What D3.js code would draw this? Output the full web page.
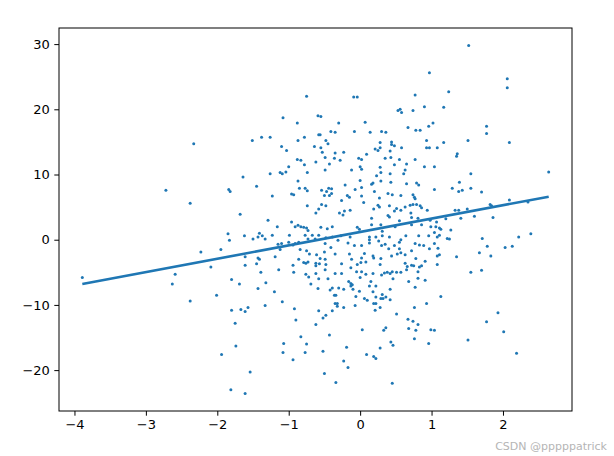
<!DOCTYPE html>
<html>
<head>
<meta charset="utf-8">
<script src="https://cdn.jsdelivr.net/npm/d3@7"></script>
<style>
  body { margin: 0; background: #fff; }
  text { font-family: "DejaVu Sans", sans-serif; }
</style>
</head>
<body>
<svg width="614" height="456"></svg>
<script>
// scatter points [x, y]
var points = [
  [-2.33,14.7],[-0.75,22.0],[-1.08,18.7],[-0.88,17.9],[-0.59,19.0],[-1.51,15.2],[-1.38,15.7],[-1.26,15.7],[-0.87,15.2],[-0.78,15.7],[-0.58,16.1],[-1.10,14.3],[-1.03,13.7],[-0.64,14.3],
  [0.97,25.6],[1.24,22.7],[-0.09,21.9],[-0.04,21.9],[0.77,22.2],[0.90,20.4],[1.17,20.3],[0.53,19.8],[0.56,20.0],[0.58,19.5],[0.74,19.8],[-0.55,18.9],[-0.30,17.9],[0.07,18.0],[1.02,17.9],[0.67,17.2],[0.96,17.4],[0.78,16.8],[0.84,16.8],[-0.41,16.6],[-0.35,16.5],[-0.08,16.6],[0.14,16.5],[0.30,16.6],[0.36,16.5],[-0.56,16.1],[-0.48,15.2],[-0.45,14.7],[0.28,14.9],[0.44,15.0],[0.44,14.6],[0.48,14.4],[0.93,15.2],[1.17,14.9],[-0.55,14.1],[0.21,13.9],[0.25,13.7],[0.28,14.1],[0.42,13.6],[0.58,14.1],[0.93,14.1],[0.97,14.1],[1.08,14.1],[-0.53,13.4],[-0.35,13.3],[-0.23,13.4],[0.09,13.1],
  [1.52,29.8],[2.06,24.7],[2.06,23.3],[1.77,17.4],[1.77,16.3],[1.51,15.2],[2.09,14.9],[1.36,13.2],[1.35,12.8],
  [-2.72,7.6],[-3.89,-5.8],[-2.59,-5.3],[-2.63,-6.8],
  [-0.88,12.3],[-0.83,12.2],[-0.62,11.9],[-0.78,11.5],[-1.00,11.2],[-1.12,10.3],[-1.09,10.1],[-1.04,10.4],[-1.26,10.1],[-0.74,10.3],[-1.64,9.6],[-0.87,9.0],[-1.45,8.2],[-0.85,7.9],[-0.77,7.9],[-0.74,7.5],[-1.84,7.7],[-1.82,7.4],[-0.96,7.0],[-0.93,6.9],[-1.23,6.7],[-2.38,5.6],[-0.74,5.2],[-0.58,4.7],[-0.62,4.1],[-1.68,3.9],[-1.29,3.0],[-0.96,2.7],
  [-0.87,2.2],[-0.91,2.0],[-0.83,2.0],[-0.79,1.9],[-0.75,1.8],[-1.16,2.0],[-0.73,1.4],[-1.41,1.0],[-1.85,0.9],[-1.23,0.7],[-0.99,0.7],[-0.77,0.7],[-0.67,0.7],[-1.62,0.6],[-1.43,0.4],[-1.37,0.6],[-1.50,0.1],[-1.33,0.1],[-1.83,-0.1],[-0.73,0.1],[-0.63,0.1],[-0.58,0.7],
  [-1.15,-0.7],[-1.10,-0.6],[-1.00,-0.4],[-0.94,-0.8],[-0.91,-0.6],[-0.86,-0.4],[-1.12,-1.5],[-0.84,-1.5],[-0.75,-1.7],[-2.23,-1.9],[-1.95,-1.5],[-0.71,-2.2],[-0.61,-2.3],[-1.61,-2.6],[-1.19,-2.6],[-1.43,-2.8],[-1.41,-3.0],[-0.86,-3.0],
  [-0.79,-3.5],[-0.76,-3.6],[-0.73,-3.4],[-0.62,-3.6],[-0.62,-4.0],[-1.61,-3.9],[-1.45,-3.7],[-0.94,-3.9],[-2.09,-4.2],[-1.14,-4.6],[-1.39,-5.0],[-0.93,-5.0],[-0.76,-5.3],[-0.72,-5.7],[-0.62,-5.2],[-1.80,-6.1],[-1.32,-6.6],[-1.69,-6.8],[-0.58,-6.0],
  [-0.49,12.6],[-0.36,12.5],[-0.28,12.2],[-0.02,12.5],[0.02,12.3],[0.35,12.5],[0.43,12.6],[0.55,12.3],[0.77,12.3],[-0.43,11.6],[0.48,11.5],[0.65,11.6],[0.00,11.2],[0.02,10.8],[0.28,11.1],[0.90,11.2],[1.04,11.2],[-0.49,10.7],[-0.12,10.7],[0.63,10.7],[0.29,10.3],[0.42,10.1],[0.61,10.1],[0.23,9.8],
  [0.00,9.1],[0.29,9.0],[0.18,8.7],[0.16,8.5],[0.43,8.8],[0.65,8.6],[0.79,8.7],[0.82,8.4],[-0.21,8.4],[-0.44,7.9],[-0.40,7.8],[-0.07,7.7],[0.02,8.0],[1.04,7.7],[-0.54,7.6],[-0.47,7.4],[-0.40,7.1],[0.20,7.4],[0.39,7.1],[0.45,6.9],[-0.50,6.8],[-0.43,6.8],[-0.18,6.8],[-0.15,6.5],[0.02,6.7],[0.57,6.8],[0.74,6.9],[0.76,6.5],[0.77,6.3],[0.27,6.4],
  [-0.26,6.0],[0.05,5.7],[-0.54,5.4],[-0.48,5.2],[0.25,5.3],[0.27,5.0],[0.41,5.2],[0.70,5.3],[0.74,5.4],[0.79,5.4],[0.63,5.0],[0.51,4.8],[0.57,4.5],[0.48,4.4],[0.84,5.2],[0.86,4.9],[-0.14,4.5],[0.19,4.7],[-0.22,4.4],[-0.29,4.1],[-0.24,3.8],[0.94,4.5],[0.39,3.7],[0.41,3.5],[0.71,4.1],[0.72,3.4],[0.16,3.3],[0.81,3.3],[0.55,2.9],[0.98,3.0],[1.20,3.2],[1.07,2.7],
  [0.16,2.3],[0.29,2.3],[0.72,2.3],[0.86,2.3],[0.99,2.0],[1.06,2.0],[1.11,1.8],[1.13,1.6],[-0.55,1.9],[-0.39,2.0],[-0.46,1.7],[-0.04,1.9],[-0.01,1.6],[0.49,2.0],[0.31,1.3],[1.04,1.1],[1.11,0.7],[1.08,0.4],[-0.48,0.3],[-0.39,0.4],[-0.27,0.6],[-0.14,0.4],[0.13,0.4],[0.22,0.4],[0.31,0.6],[0.41,0.4],[0.64,0.6],[0.82,0.6],[0.96,0.6],[1.22,0.2],
  [-0.31,-0.1],[0.13,0.0],[0.13,-0.5],[0.26,-0.2],[0.57,0.0],[0.55,-0.4],[-0.17,-0.5],[-0.49,-0.6],[1.04,-0.6],[0.83,-0.8],[0.89,-0.9],[-0.08,-0.9],[0.02,-0.9],[0.77,-0.6],[0.30,-0.9],[0.35,-0.7],[0.48,-0.9],[-0.41,-1.2],[0.40,-1.4],[0.55,-1.4],[0.57,-2.0],[0.52,-2.2],[0.97,-1.4],[1.09,-1.3],[0.72,-1.7],[-0.50,-1.9],[0.06,-2.1],[-0.35,-2.2],[-0.15,-2.2],
  [0.18,-2.5],[0.19,-2.8],[0.44,-2.5],[0.63,-2.3],[1.08,-2.5],[1.11,-2.3],[-0.56,-2.9],[-0.49,-3.0],[-0.12,-3.0],[0.02,-2.8],[0.29,-2.9],[0.78,-2.9],[0.91,-3.3],[-0.57,-3.7],[-0.48,-3.8],[-0.26,-3.7],[-0.04,-3.8],[0.01,-3.5],[0.08,-3.4],[0.28,-3.8],[0.63,-3.6],[0.66,-4.1],[0.72,-3.9],[0.75,-4.0],[0.86,-4.0],[0.83,-4.2],[1.08,-3.8],
  [-0.49,-4.6],[-0.13,-4.3],[-0.05,-4.9],[0.02,-4.9],[0.34,-5.1],[0.38,-5.0],[0.42,-5.2],[0.45,-4.9],[0.51,-5.0],[0.57,-5.0],[0.65,-4.6],[0.81,-4.9],[-0.35,-5.2],[-0.26,-5.2],[0.08,-5.3],[0.18,-5.2],[0.30,-5.4],[-0.45,-6.0],[-0.16,-6.4],[-0.13,-6.7],[0.00,-5.8],[0.15,-6.4],[0.46,-6.0],[0.68,-6.4],[0.81,-5.9],[0.91,-6.2],
  [1.55,10.1],[2.64,10.4],[1.39,8.8],[1.29,7.9],[1.38,7.4],[1.43,7.6],[1.55,7.9],[1.70,7.3],[2.09,6.1],[2.35,5.8],[1.82,5.4],[1.84,5.2],[1.33,4.5],[1.38,4.5],[1.50,4.7],[1.41,3.3],[1.60,3.6],[1.86,3.4],[1.27,1.5],[1.25,0.1],[2.39,0.9],[2.22,0.4],[1.71,0.2],[1.78,-1.0],[2.03,-1.2],[2.13,-1.0],[1.67,-2.0],[1.83,-2.5],[1.35,-2.6],[1.55,-5.0],[1.70,-4.7],
  [-1.43,-7.5],[-1.20,-8.0],[-0.69,-6.8],[-0.59,-7.5],[-2.38,-9.4],[-2.01,-8.5],[-1.80,-10.8],[-1.67,-10.7],[-1.61,-11.0],[-1.57,-10.4],[-1.33,-10.1],[-1.09,-9.5],[-0.92,-10.6],[-0.58,-10.9],[-1.75,-12.8],[-0.90,-12.3],[-0.62,-13.0],[-0.83,-14.9],[-1.07,-15.9],[-0.75,-16.0],[-1.74,-16.3],[-1.94,-17.6],[-1.08,-17.3],[-0.77,-17.3],[-0.94,-18.4],[-1.54,-20.3],[-1.81,-23.0],[-1.61,-23.6],
  [-0.42,-7.7],[-0.39,-7.4],[-0.30,-7.4],[-0.23,-7.6],[-0.13,-7.1],[-0.11,-6.9],[-0.10,-7.6],[-0.01,-7.9],[0.13,-7.1],[0.22,-7.1],[0.42,-7.6],[0.77,-7.3],[0.18,-8.0],[-0.36,-8.5],[-0.34,-8.5],[-0.06,-8.7],[0.22,-8.8],[0.31,-8.4],[0.29,-9.0],[0.32,-9.0],[0.36,-8.8],[0.42,-9.2],[0.06,-9.0],[0.10,-9.3],[1.13,-8.7],
  [-0.32,-9.8],[-0.32,-10.2],[-0.35,-9.8],[0.19,-9.8],[0.22,-9.8],[-0.07,-10.1],[-0.23,-10.4],[0.28,-10.4],[0.21,-10.8],[0.93,-9.8],[0.76,-10.4],[-0.39,-10.9],[-0.48,-11.6],[-0.52,-12.0],[0.51,-11.4],[0.67,-12.2],[0.74,-12.5],[0.81,-13.0],[0.36,-13.5],[0.33,-13.9],[0.03,-13.8],[0.68,-13.6],[0.78,-13.9],[0.99,-13.8],[1.04,-13.9],
  [-0.43,-14.6],[0.76,-15.2],[0.43,-15.7],[0.46,-16.2],[0.96,-15.9],[-0.19,-16.5],[0.28,-16.6],[-0.52,-17.1],[0.09,-17.6],[0.19,-17.9],[0.22,-18.2],[-0.23,-18.6],[-0.17,-19.6],[-0.50,-20.5],[-0.34,-21.9],[0.45,-22.0],
  [1.93,-11.2],[1.77,-12.6],[2.01,-14.1],[1.51,-15.4],[2.19,-17.4]
];

// fitted line, its two ends
var fitX = [-3.89, 2.64];
var fitY = [-6.8, 6.6];

var xTicks = [-4, -3, -2, -1, 0, 1, 2];
var yTicks = [-20, -10, 0, 10, 20, 30];

var svg = d3.select("svg"),
    margin = {top: 28, right: 42, bottom: 45, left: 59},
    width = 614 - margin.left - margin.right,
    height = 456 - margin.top - margin.bottom,
    g = svg.append("g").attr("transform", "translate(" + margin.left + "," + margin.top + ")");

// 5% padding like matplotlib autoscale
var xAll = points.map(function(d) { return d[0]; }).concat(fitX),
    yAll = points.map(function(d) { return d[1]; }).concat(fitY);
var xe = d3.extent(xAll), ye = d3.extent(yAll);
var xp = (xe[1] - xe[0]) * 0.05, yp = (ye[1] - ye[0]) * 0.05;

var x = d3.scaleLinear().domain([xe[0] - xp, xe[1] + xp]).range([0, width]),
    y = d3.scaleLinear().domain([ye[0] - yp, ye[1] + yp]).range([height, 0]);

var blue = "#1f77b4";

g.append("g").selectAll("circle")
    .data(points)
  .enter().append("circle")
    .attr("cx", function(d) { return x(d[0]); })
    .attr("cy", function(d) { return y(d[1]); })
    .attr("r", 1.5)
    .attr("fill", blue);

var line = d3.line()
    .x(function(d) { return x(d[0]); })
    .y(function(d) { return y(d[1]); });

g.append("path")
    .datum(fitX.map(function(v, i) { return [v, fitY[i]]; }))
    .attr("fill", "none")
    .attr("stroke", blue)
    .attr("stroke-width", 2.6)
    .attr("d", line);

var xAxis = g.append("g")
    .attr("transform", "translate(0," + height + ")")
    .call(d3.axisBottom(x).tickValues(xTicks).tickSize(4.7).tickPadding(4.5).tickFormat(function(d) { return d < 0 ? "\u2212" + (-d) : d; }));

var yAxis = g.append("g")
    .call(d3.axisLeft(y).tickValues(yTicks).tickSize(4.7).tickPadding(4.5).tickFormat(function(d) { return d < 0 ? "\u2212" + (-d) : d; }));

[xAxis, yAxis].forEach(function(a) {
  a.select(".domain").remove();
  a.selectAll("line").attr("stroke", "#000").attr("stroke-width", 1);
  a.selectAll("text").attr("fill", "#000").style("font-size", "13px").style("font-family", "DejaVu Sans, sans-serif");
});

// frame
g.append("rect")
    .attr("width", width)
    .attr("height", height)
    .attr("fill", "none")
    .attr("stroke", "#000")
    .attr("stroke-width", 1);

svg.append("text")
    .attr("x", 607)
    .attr("y", 450)
    .attr("text-anchor", "end")
    .attr("fill", "#b5b5b5")
    .style("font-size", "11px")
    .text("CSDN @pppppatrick");
</script>
</body>
</html>
